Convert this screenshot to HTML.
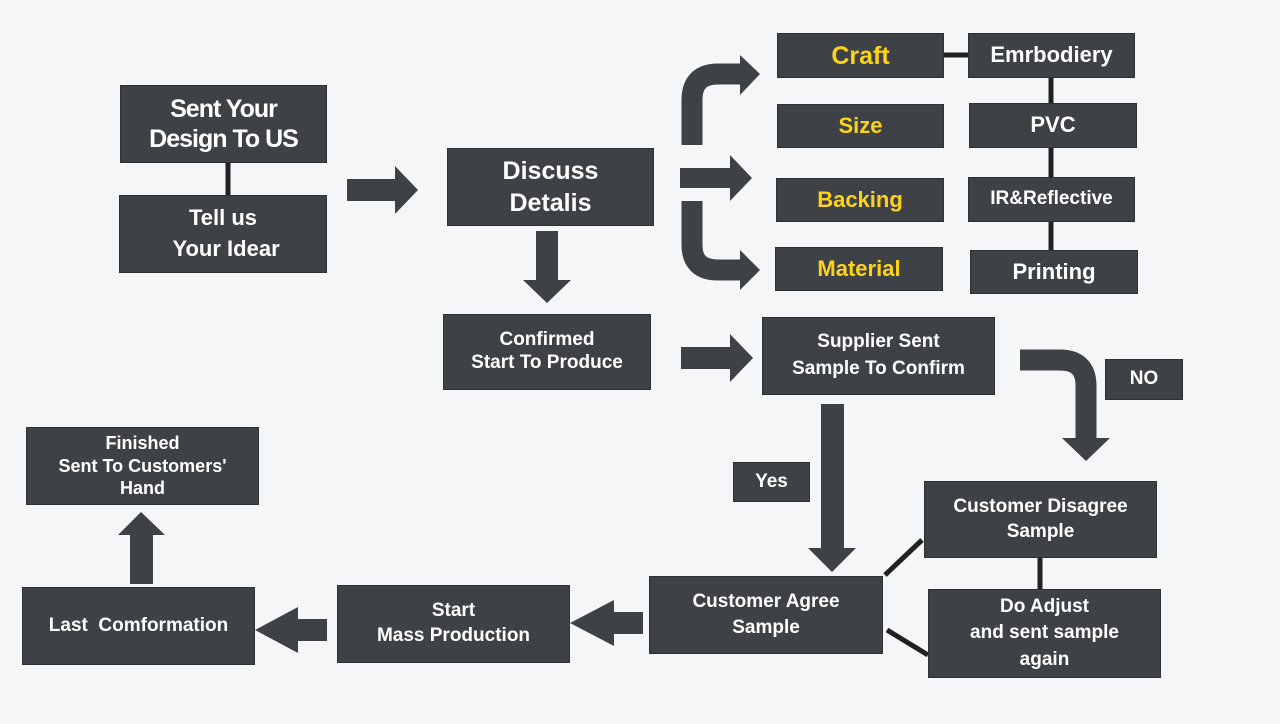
<!DOCTYPE html>
<html><head><meta charset="utf-8"><style>
body{margin:0;width:1280px;height:724px;background:#f5f6f7;position:relative;overflow:hidden;font-family:"Liberation Sans",Arial,sans-serif}
.b{position:absolute;background:#3e4246;border:1px solid #2e3134;box-sizing:border-box;color:#fff;font-weight:bold;display:flex;align-items:center;justify-content:center;text-align:center;line-height:1.2}
.y{color:#ffd21a}
svg{position:absolute;left:0;top:0}
</style></head><body>
<svg width="1280" height="724">
<g stroke="#1f2225" stroke-width="5">
<line x1="228" y1="163" x2="228" y2="195"/>
<line x1="944" y1="55" x2="968" y2="55"/>
<line x1="1051" y1="78" x2="1051" y2="103"/>
<line x1="1051" y1="148" x2="1051" y2="177"/>
<line x1="1051" y1="222" x2="1051" y2="250"/>
<line x1="885" y1="575" x2="922" y2="540"/>
<line x1="887" y1="630" x2="928" y2="655"/>
<line x1="1040" y1="558" x2="1040" y2="589"/>
</g>
<g fill="#3e4246">
<polygon points="347,179 395,179 395,166 418,190 395,214 395,201 347,201"/>
<polygon points="536,231 558,231 558,280 571,280 547,303 523,280 536,280"/>
<polygon points="681,347 730,347 730,334 753,358 730,382 730,369 681,369"/>
<polygon points="821,404 844,404 844,548 856,548 832,572 808,548 821,548"/>
<polygon points="643,612 614,612 614,600 570,623 614,646 614,634 643,634"/>
<polygon points="327,619 298,619 298,607 255,630 298,653 298,641 327,641"/>
<polygon points="130,584 153,584 153,535 165,535 141,512 118,535 130,535"/>
<polygon points="680,168 730,168 730,155 752,178 730,201 730,188 680,188"/>
<polygon points="740,55 760,74 740,95"/>
<polygon points="740,250 760,270 740,290"/>
<polygon points="1062,438 1110,438 1086,461"/>
</g>
<g fill="none" stroke="#3e4246" stroke-width="21">
<path d="M692,145 V100 Q692,74 718,74 H741"/>
<path d="M692,201 V245 Q692,270 718,270 H741"/>
<path d="M1020,360 H1060 Q1086,360 1086,386 V439"/>
</g>
</svg>
<div class="b" style="left:120px;top:85px;width:207px;height:78px;font-size:25px;letter-spacing:-1px">Sent Your<br>Design To US</div>
<div class="b" style="left:119px;top:195px;width:208px;height:78px;font-size:22px;line-height:1.4">Tell us<br>&nbsp;Your Idear</div>
<div class="b" style="left:447px;top:148px;width:207px;height:78px;font-size:25px;line-height:1.3">Discuss<br>Detalis</div>
<div class="b y" style="left:777px;top:33px;width:167px;height:45px;font-size:25px">Craft</div>
<div class="b" style="left:968px;top:33px;width:167px;height:45px;font-size:22px">Emrbodiery</div>
<div class="b y" style="left:777px;top:104px;width:167px;height:44px;font-size:22px">Size</div>
<div class="b" style="left:969px;top:103px;width:168px;height:45px;font-size:22px">PVC</div>
<div class="b y" style="left:776px;top:178px;width:168px;height:44px;font-size:22px">Backing</div>
<div class="b" style="left:968px;top:177px;width:167px;height:45px;font-size:19px">IR&amp;Reflective</div>
<div class="b y" style="left:775px;top:247px;width:168px;height:44px;font-size:22px">Material</div>
<div class="b" style="left:970px;top:250px;width:168px;height:44px;font-size:22px">Printing</div>
<div class="b" style="left:443px;top:314px;width:208px;height:76px;font-size:19px">Confirmed<br>Start To Produce</div>
<div class="b" style="left:762px;top:317px;width:233px;height:78px;font-size:19px;line-height:1.4">Supplier Sent<br>Sample To Confirm</div>
<div class="b" style="left:1105px;top:359px;width:78px;height:41px;font-size:19px">NO</div>
<div class="b" style="left:733px;top:462px;width:77px;height:40px;font-size:19px">Yes</div>
<div class="b" style="left:924px;top:481px;width:233px;height:77px;font-size:19px;line-height:1.3">Customer Disagree<br>Sample</div>
<div class="b" style="left:649px;top:576px;width:234px;height:78px;font-size:19px;line-height:1.35">Customer Agree<br>Sample</div>
<div class="b" style="left:928px;top:589px;width:233px;height:89px;font-size:19px;line-height:1.4">Do Adjust<br>and sent sample<br>again</div>
<div class="b" style="left:337px;top:585px;width:233px;height:78px;font-size:19px;line-height:1.3">Start<br>Mass Production</div>
<div class="b" style="left:22px;top:587px;width:233px;height:78px;font-size:19px">Last&nbsp; Comformation</div>
<div class="b" style="left:26px;top:427px;width:233px;height:78px;font-size:18px;line-height:1.25">Finished<br>Sent To Customers'<br>Hand</div>
</body></html>
